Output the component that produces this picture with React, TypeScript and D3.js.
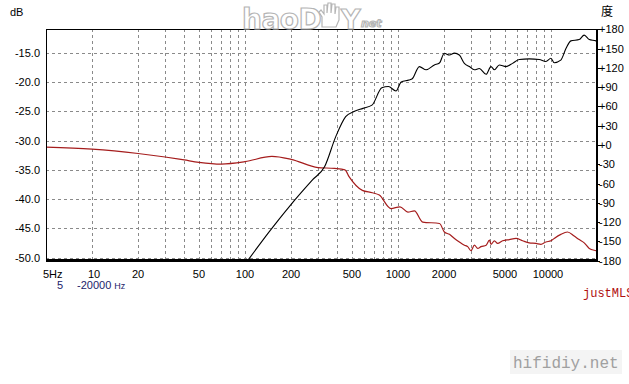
import React from "react";
import * as d3 from "d3";

const W = 629;
const H = 384;

// Magnitude (dB) — red trace
const magFreq = [5, 10, 20, 30, 40, 50, 70, 100, 150, 200, 300, 385, 450, 480, 585, 680, 755, 900, 1030, 1160, 1280, 1450, 1870, 2010, 2170, 2340, 2520, 2720, 2855, 3000, 3160, 3320, 3490, 3770, 3960, 4060, 4270, 4480, 4830, 5340, 5910, 6525, 7210, 7980, 8600, 9270, 10000, 10500, 11600, 12830, 14190, 15300, 16500, 17800, 19700, 20000];
const magDb = [-31.1, -31.45, -32.2, -32.8, -33.3, -33.7, -34.0, -33.6, -32.7, -33.2, -34.6, -34.75, -35.0, -36.2, -38.5, -38.9, -39.3, -41.6, -41.3, -42.2, -42.0, -43.9, -44.15, -45.6, -46.0, -46.7, -47.3, -47.85, -48.1, -48.8, -47.85, -48.4, -48.1, -47.85, -47.0, -47.7, -47.1, -47.55, -47.1, -46.9, -46.7, -47.1, -47.45, -47.55, -47.7, -47.3, -47.1, -46.7, -46.0, -45.6, -46.3, -46.9, -47.45, -48.4, -48.8, -48.85];

// Phase (degrees) — black trace
const phFreq = [104, 145, 196, 277, 331, 392, 455, 515, 590, 676, 784, 866, 970, 1050, 1180, 1240, 1380, 1527, 1730, 1866, 2010, 2168, 2339, 2518, 2716, 2930, 3157, 3402, 3766, 4055, 4266, 4595, 5081, 5610, 6205, 7214, 8390, 9270, 10000, 10500, 11600, 12530, 13500, 15300, 16500, 17800, 19700, 20000];
const phDeg = [-180, -134, -95, -54, -34, 13, 44, 52, 57, 62, 89, 91, 84, 98, 101, 103, 122, 117, 124.5, 127.6, 142.7, 140, 143, 140, 127, 122, 117, 119, 110, 122, 117, 124.5, 122, 127, 133, 134, 133, 130, 135, 128, 132, 150, 162, 164, 171, 164, 162, 161];

const xTickVals = [5, 10, 20, 50, 100, 200, 500, 1000, 2000, 5000, 10000];
const xTickText = ["5Hz", "10", "20", "50", "100", "200", "500", "1000", "2000", "5000", "10000"];
const dbTicks = [-15, -20, -25, -30, -35, -40, -45, -50];
const phTicks = [180, 150, 120, 90, 60, 30, 0, -30, -60, -90, -120, -150, -180];
const gridFreqs = [10, 20, 30, 40, 50, 60, 70, 80, 90, 100, 200, 300, 400, 500, 600, 700, 800, 900, 1000, 2000, 3000, 4000, 5000, 6000, 7000, 8000, 9000, 10000];

const L = 46, R = 597, T = 29.3, B = 260.7;

export default function App() {
  const x = d3.scaleLog().domain([5, 20000]).range([L, R]);
  const yDb = d3.scaleLinear().domain([-50.5, -11]).range([B, T]);
  const yPh = d3.scaleLinear().domain([-180, 180]).range([B, T]);

  const magLine = d3.line<number>()
    .x((_, i) => x(magFreq[i]))
    .y((d) => yDb(d))
    .curve(d3.curveMonotoneX);
  const phLine = d3.line<number>()
    .x((_, i) => x(phFreq[i]))
    .y((d) => yPh(d))
    .curve(d3.curveMonotoneX);

  const font = "'Liberation Sans', Arial, sans-serif";

  return (
    <svg width={W} height={H} style={{ position: "absolute", left: 0, top: 0, background: "#fff" }}>
      <rect x={0} y={0} width={W} height={H} fill="#fff" />
      <defs>
        <clipPath id="plot">
          <rect x={L} y={T} width={R - L} height={B - T} />
        </clipPath>
      </defs>

      {/* grid */}
      <g stroke="#8a8a8a" strokeWidth={1} strokeDasharray="3,3" shapeRendering="crispEdges">
        {gridFreqs.map((f) => (
          <line key={"v" + f} x1={Math.round(x(f)) + 0.5} x2={Math.round(x(f)) + 0.5} y1={T} y2={B} />
        ))}
        {dbTicks.map((v) => (
          <line key={"h" + v} x1={L} x2={R} y1={Math.round(yDb(v)) + 0.5} y2={Math.round(yDb(v)) + 0.5} />
        ))}
      </g>

      {/* curves */}
      <g clipPath="url(#plot)" fill="none">
        <path d={magLine(magDb) || ""} stroke="#a51d1d" strokeWidth={1.2} />
        <path d={phLine(phDeg) || ""} stroke="#000" strokeWidth={1.1} />
      </g>

      {/* frame */}
      <g stroke="#000" shapeRendering="crispEdges">
        <line x1={L} x2={R} y1={29.5} y2={29.5} strokeWidth={1} />
        <line x1={46.5} x2={46.5} y1={T} y2={B} strokeWidth={1} />
        <line x1={R} x2={R} y1={T - 0.5} y2={B + 1} strokeWidth={2} />
        <line x1={L} x2={R + 1} y1={B} y2={B} strokeWidth={2.5} />
        {phTicks.map((v) => (
          <line key={"pt" + v} x1={R} x2={R + 3} y1={Math.round(yPh(v)) + 0.5} y2={Math.round(yPh(v)) + 0.5} strokeWidth={1} />
        ))}
      </g>

      {/* axis labels */}
      <g fontFamily={font} fontSize={11} fill="#000">
        <text x={10} y={16}>dB</text>
        {dbTicks.map((v) => (
          <text key={"dl" + v} x={40} y={yDb(v) + 4} textAnchor="end">{v.toFixed(1)}</text>
        ))}
        {phTicks.map((v) => (
          <text key={"pl" + v} x={599} y={yPh(v) + 4}>{v > 0 ? "+" + v : v === 0 ? "+0" : String(v)}</text>
        ))}
        {xTickVals.map((f, i) => (
          <text key={"xl" + f} x={i === 0 ? 43 : x(f) + (f === 10 ? 2 : f === 10000 ? -3 : 0)} y={278} textAnchor={i === 0 ? "start" : "middle"}>{xTickText[i]}</text>
        ))}
      </g>
      <text x={601} y={16} fontFamily="'Noto Sans CJK SC', sans-serif" fontSize={12} fill="#000">度</text>

      {/* range */}
      <g fontFamily={font} fontSize={11} fill="#1c1c6a">
        <text x={57} y={289}>5</text>
        <text x={77} y={289}>-20000 <tspan fontSize={9}>Hz</tspan></text>
      </g>
      <text x={583} y={297} fontFamily="'Liberation Mono', 'Courier New', monospace" fontSize={12} fill="#b01010">justMLS</text>

      {/* watermarks */}
      <rect x={510} y={350} width={112} height={24} fill="#f4f4f4" />
      <text x={513} y={368} fontFamily="'Liberation Mono', monospace" fontSize={16} fill="#a0a0a0">hifidiy.net</text>
      <g fontFamily="'DejaVu Sans', sans-serif" fontWeight="bold" fill="#fff" stroke="#b5b5b5" strokeWidth={1.2}>
        <text x={242} y={29} fontSize={28} letterSpacing={-0.5}>haoD</text>
        <path d="M322,27 L322,17 L319,12 L321,10 L324,14 L324,5 L327,5 L327,13 L328,3 L331,3 L331,13 L332,4 L335,4 L335,14 L336,7 L339,7 L339,20 L336,27 Z" />
        <text x={341} y={29} fontSize={27}>Y</text>
        <text x={361} y={27} fontSize={11} fontStyle="italic">net</text>
      </g>
    </svg>
  );
}
